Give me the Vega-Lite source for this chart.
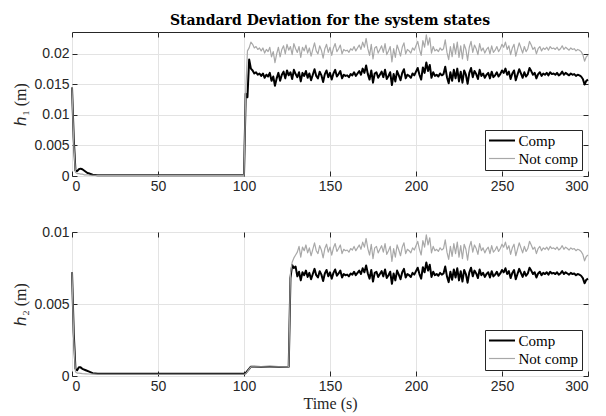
{
"$schema": "https://vega.github.io/schema/vega-lite/v6.json",
"background": "white",
"padding": {"left": 12, "top": 13, "right": 8, "bottom": 2},
"spacing": 30,
"config": {
 "view": {"stroke": "#262626", "strokeWidth": 1},
 "axis": {"labelFont": "Liberation Sans", "labelFontSize": 14, "labelColor": "#262626", "tickColor": "#262626", "tickSize": -5, "domain": false, "gridColor": "#e3e3e3", "gridWidth": 1, "titleFont": "Liberation Serif", "titleFontWeight": "normal", "titleFontSize": 16, "titleColor": "#262626", "labelPadding": 8, "titlePadding": 5},
 "legend": {"orient": "bottom-right", "offset": 6, "symbolType": "M-2,0H2", "symbolSize": 169, "symbolOffset": 6.5, "labelFont": "Liberation Serif", "labelFontSize": 15, "labelColor": "#000000", "fillColor": "white", "strokeColor": "#262626", "padding": 3, "rowPadding": 2, "labelOffset": 9}
},
"datasets": {
"h1": [
{"t":0,"Comp":0.0145,"Not comp":0.0145},
{"t":1,"Comp":0.0062,"Not comp":0.0055},
{"t":2,"Comp":0.0009,"Not comp":0.0006},
{"t":3,"Comp":0.0008,"Not comp":0.0004},
{"t":4,"Comp":0.0011,"Not comp":0.0004},
{"t":5,"Comp":0.0012,"Not comp":0.0003},
{"t":6,"Comp":0.0011,"Not comp":0.0003},
{"t":7,"Comp":0.0009,"Not comp":0.0002},
{"t":8,"Comp":0.0007,"Not comp":0.0002},
{"t":9,"Comp":0.0005,"Not comp":0.0002},
{"t":10,"Comp":0.0004,"Not comp":0.00015},
{"t":12,"Comp":0.0002,"Not comp":0.00012},
{"t":15,"Comp":0.00012,"Not comp":0.0001},
{"t":100,"Comp":0.00012,"Not comp":0.0001},
{"t":101,"Comp":0.0135,"Not comp":0.0137},
{"t":102,"Comp":0.0129,"Not comp":0.0205},
{"t":103,"Comp":0.0191,"Not comp":0.021},
{"t":104,"Comp":0.0176,"Not comp":0.02194},
{"t":105,"Comp":0.0173,"Not comp":0.02158},
{"t":106,"Comp":0.0168,"Not comp":0.02098},
{"t":107,"Comp":0.017,"Not comp":0.02122},
{"t":108,"Comp":0.0166,"Not comp":0.02074},
{"t":109,"Comp":0.0168,"Not comp":0.02098},
{"t":110,"Comp":0.0164,"Not comp":0.0205},
{"t":111,"Comp":0.0168,"Not comp":0.02098},
{"t":112,"Comp":0.0161,"Not comp":0.02014},
{"t":113,"Comp":0.0166,"Not comp":0.02074},
{"t":114,"Comp":0.0163,"Not comp":0.02038},
{"t":115,"Comp":0.0169,"Not comp":0.0211},
{"t":116,"Comp":0.0156,"Not comp":0.01954},
{"t":117,"Comp":0.0163,"Not comp":0.02038},
{"t":118,"Comp":0.0148,"Not comp":0.01858},
{"t":119,"Comp":0.016,"Not comp":0.02002},
{"t":120,"Comp":0.0169,"Not comp":0.0211},
{"t":121,"Comp":0.0156,"Not comp":0.01954},
{"t":122,"Comp":0.0166,"Not comp":0.02074},
{"t":123,"Comp":0.0171,"Not comp":0.02134},
{"t":124,"Comp":0.016,"Not comp":0.02002},
{"t":125,"Comp":0.0173,"Not comp":0.02158},
{"t":126,"Comp":0.0165,"Not comp":0.02062},
{"t":127,"Comp":0.017,"Not comp":0.02122},
{"t":128,"Comp":0.0159,"Not comp":0.0199},
{"t":129,"Comp":0.0174,"Not comp":0.0217},
{"t":130,"Comp":0.0167,"Not comp":0.02086},
{"t":131,"Comp":0.0162,"Not comp":0.02026},
{"t":132,"Comp":0.017,"Not comp":0.02122},
{"t":133,"Comp":0.0155,"Not comp":0.01942},
{"t":134,"Comp":0.0169,"Not comp":0.0211},
{"t":135,"Comp":0.0164,"Not comp":0.0205},
{"t":136,"Comp":0.0172,"Not comp":0.02146},
{"t":137,"Comp":0.0161,"Not comp":0.02014},
{"t":138,"Comp":0.0168,"Not comp":0.02098},
{"t":139,"Comp":0.0157,"Not comp":0.01966},
{"t":140,"Comp":0.0166,"Not comp":0.02074},
{"t":141,"Comp":0.0175,"Not comp":0.02182},
{"t":142,"Comp":0.0164,"Not comp":0.0205},
{"t":143,"Comp":0.016,"Not comp":0.02002},
{"t":144,"Comp":0.0171,"Not comp":0.02134},
{"t":145,"Comp":0.0165,"Not comp":0.02062},
{"t":146,"Comp":0.0154,"Not comp":0.0193},
{"t":147,"Comp":0.0167,"Not comp":0.02086},
{"t":148,"Comp":0.0173,"Not comp":0.02158},
{"t":149,"Comp":0.0162,"Not comp":0.02026},
{"t":150,"Comp":0.0169,"Not comp":0.0211},
{"t":151,"Comp":0.0158,"Not comp":0.01978},
{"t":152,"Comp":0.0168,"Not comp":0.02098},
{"t":153,"Comp":0.0174,"Not comp":0.0217},
{"t":154,"Comp":0.0163,"Not comp":0.02038},
{"t":155,"Comp":0.0167,"Not comp":0.02086},
{"t":156,"Comp":0.0172,"Not comp":0.02146},
{"t":157,"Comp":0.016,"Not comp":0.02002},
{"t":158,"Comp":0.0166,"Not comp":0.02074},
{"t":159,"Comp":0.0164,"Not comp":0.0205},
{"t":160,"Comp":0.0165,"Not comp":0.02062},
{"t":161,"Comp":0.0162,"Not comp":0.02026},
{"t":162,"Comp":0.0167,"Not comp":0.02086},
{"t":163,"Comp":0.0165,"Not comp":0.02062},
{"t":164,"Comp":0.017,"Not comp":0.02122},
{"t":165,"Comp":0.0164,"Not comp":0.0205},
{"t":166,"Comp":0.0168,"Not comp":0.02098},
{"t":167,"Comp":0.0172,"Not comp":0.02146},
{"t":168,"Comp":0.0166,"Not comp":0.02074},
{"t":169,"Comp":0.0176,"Not comp":0.02194},
{"t":170,"Comp":0.0169,"Not comp":0.0211},
{"t":171,"Comp":0.0181,"Not comp":0.02254},
{"t":172,"Comp":0.0167,"Not comp":0.02086},
{"t":173,"Comp":0.0158,"Not comp":0.01978},
{"t":174,"Comp":0.0173,"Not comp":0.02158},
{"t":175,"Comp":0.0153,"Not comp":0.01918},
{"t":176,"Comp":0.0168,"Not comp":0.02098},
{"t":177,"Comp":0.017,"Not comp":0.02122},
{"t":178,"Comp":0.0161,"Not comp":0.02014},
{"t":179,"Comp":0.0166,"Not comp":0.02074},
{"t":180,"Comp":0.0171,"Not comp":0.02134},
{"t":181,"Comp":0.0162,"Not comp":0.02026},
{"t":182,"Comp":0.0174,"Not comp":0.0217},
{"t":183,"Comp":0.0159,"Not comp":0.0199},
{"t":184,"Comp":0.0164,"Not comp":0.0205},
{"t":185,"Comp":0.017,"Not comp":0.02122},
{"t":186,"Comp":0.0149,"Not comp":0.0187},
{"t":187,"Comp":0.0167,"Not comp":0.02086},
{"t":188,"Comp":0.0155,"Not comp":0.01942},
{"t":189,"Comp":0.0172,"Not comp":0.02146},
{"t":190,"Comp":0.0165,"Not comp":0.02062},
{"t":191,"Comp":0.0157,"Not comp":0.01966},
{"t":192,"Comp":0.0169,"Not comp":0.0211},
{"t":193,"Comp":0.0175,"Not comp":0.02182},
{"t":194,"Comp":0.016,"Not comp":0.02002},
{"t":195,"Comp":0.0166,"Not comp":0.02074},
{"t":196,"Comp":0.0164,"Not comp":0.0205},
{"t":197,"Comp":0.0161,"Not comp":0.02014},
{"t":198,"Comp":0.0168,"Not comp":0.02098},
{"t":199,"Comp":0.0165,"Not comp":0.02062},
{"t":200,"Comp":0.0171,"Not comp":0.02134},
{"t":201,"Comp":0.0177,"Not comp":0.02206},
{"t":202,"Comp":0.0166,"Not comp":0.02074},
{"t":203,"Comp":0.0158,"Not comp":0.01978},
{"t":204,"Comp":0.0178,"Not comp":0.02218},
{"t":205,"Comp":0.0169,"Not comp":0.0211},
{"t":206,"Comp":0.0186,"Not comp":0.02314},
{"t":207,"Comp":0.0172,"Not comp":0.02146},
{"t":208,"Comp":0.0182,"Not comp":0.02266},
{"t":209,"Comp":0.0161,"Not comp":0.02014},
{"t":210,"Comp":0.017,"Not comp":0.02122},
{"t":211,"Comp":0.0164,"Not comp":0.0205},
{"t":212,"Comp":0.0166,"Not comp":0.02074},
{"t":213,"Comp":0.0163,"Not comp":0.02038},
{"t":214,"Comp":0.0168,"Not comp":0.02098},
{"t":215,"Comp":0.0165,"Not comp":0.02062},
{"t":216,"Comp":0.0167,"Not comp":0.02086},
{"t":217,"Comp":0.0179,"Not comp":0.0223},
{"t":218,"Comp":0.0162,"Not comp":0.02026},
{"t":219,"Comp":0.0152,"Not comp":0.01906},
{"t":220,"Comp":0.017,"Not comp":0.02122},
{"t":221,"Comp":0.0156,"Not comp":0.01954},
{"t":222,"Comp":0.0174,"Not comp":0.0217},
{"t":223,"Comp":0.016,"Not comp":0.02002},
{"t":224,"Comp":0.0176,"Not comp":0.02194},
{"t":225,"Comp":0.0155,"Not comp":0.01942},
{"t":226,"Comp":0.0171,"Not comp":0.02134},
{"t":227,"Comp":0.0153,"Not comp":0.01918},
{"t":228,"Comp":0.0173,"Not comp":0.02158},
{"t":229,"Comp":0.0166,"Not comp":0.02074},
{"t":230,"Comp":0.0151,"Not comp":0.01894},
{"t":231,"Comp":0.0169,"Not comp":0.0211},
{"t":232,"Comp":0.0177,"Not comp":0.02206},
{"t":233,"Comp":0.0162,"Not comp":0.02026},
{"t":234,"Comp":0.0172,"Not comp":0.02146},
{"t":235,"Comp":0.0167,"Not comp":0.02086},
{"t":236,"Comp":0.0159,"Not comp":0.0199},
{"t":237,"Comp":0.0174,"Not comp":0.0217},
{"t":238,"Comp":0.0164,"Not comp":0.0205},
{"t":239,"Comp":0.0168,"Not comp":0.02098},
{"t":240,"Comp":0.0161,"Not comp":0.02014},
{"t":241,"Comp":0.0166,"Not comp":0.02074},
{"t":242,"Comp":0.0169,"Not comp":0.0211},
{"t":243,"Comp":0.016,"Not comp":0.02002},
{"t":244,"Comp":0.0171,"Not comp":0.02134},
{"t":245,"Comp":0.0162,"Not comp":0.02026},
{"t":246,"Comp":0.0165,"Not comp":0.02062},
{"t":247,"Comp":0.017,"Not comp":0.02122},
{"t":248,"Comp":0.0163,"Not comp":0.02038},
{"t":249,"Comp":0.0167,"Not comp":0.02086},
{"t":250,"Comp":0.0173,"Not comp":0.02158},
{"t":251,"Comp":0.0169,"Not comp":0.0211},
{"t":252,"Comp":0.0176,"Not comp":0.02194},
{"t":253,"Comp":0.0166,"Not comp":0.02074},
{"t":254,"Comp":0.0171,"Not comp":0.02134},
{"t":255,"Comp":0.0159,"Not comp":0.0199},
{"t":256,"Comp":0.0168,"Not comp":0.02098},
{"t":257,"Comp":0.0173,"Not comp":0.02158},
{"t":258,"Comp":0.0157,"Not comp":0.01966},
{"t":259,"Comp":0.0166,"Not comp":0.02074},
{"t":260,"Comp":0.0175,"Not comp":0.02182},
{"t":261,"Comp":0.0168,"Not comp":0.02098},
{"t":262,"Comp":0.0161,"Not comp":0.02014},
{"t":263,"Comp":0.017,"Not comp":0.02122},
{"t":264,"Comp":0.0163,"Not comp":0.02038},
{"t":265,"Comp":0.0167,"Not comp":0.02086},
{"t":266,"Comp":0.0177,"Not comp":0.02206},
{"t":267,"Comp":0.0172,"Not comp":0.02146},
{"t":268,"Comp":0.0166,"Not comp":0.02074},
{"t":269,"Comp":0.0169,"Not comp":0.0211},
{"t":270,"Comp":0.016,"Not comp":0.02002},
{"t":271,"Comp":0.0167,"Not comp":0.02086},
{"t":272,"Comp":0.017,"Not comp":0.02122},
{"t":273,"Comp":0.0164,"Not comp":0.0205},
{"t":274,"Comp":0.0168,"Not comp":0.02098},
{"t":275,"Comp":0.0166,"Not comp":0.02074},
{"t":276,"Comp":0.0169,"Not comp":0.0211},
{"t":277,"Comp":0.0165,"Not comp":0.02062},
{"t":278,"Comp":0.017,"Not comp":0.02122},
{"t":279,"Comp":0.0167,"Not comp":0.02086},
{"t":280,"Comp":0.0168,"Not comp":0.02098},
{"t":281,"Comp":0.0166,"Not comp":0.02074},
{"t":282,"Comp":0.0169,"Not comp":0.0211},
{"t":283,"Comp":0.0165,"Not comp":0.02062},
{"t":284,"Comp":0.0167,"Not comp":0.02086},
{"t":285,"Comp":0.0171,"Not comp":0.02134},
{"t":286,"Comp":0.0166,"Not comp":0.02074},
{"t":287,"Comp":0.0169,"Not comp":0.0211},
{"t":288,"Comp":0.0167,"Not comp":0.02086},
{"t":289,"Comp":0.0165,"Not comp":0.02062},
{"t":290,"Comp":0.0168,"Not comp":0.02098},
{"t":291,"Comp":0.0166,"Not comp":0.02074},
{"t":292,"Comp":0.0167,"Not comp":0.02086},
{"t":293,"Comp":0.0164,"Not comp":0.0205},
{"t":294,"Comp":0.0166,"Not comp":0.02074},
{"t":295,"Comp":0.0165,"Not comp":0.02062},
{"t":296,"Comp":0.0163,"Not comp":0.02038},
{"t":297,"Comp":0.0159,"Not comp":0.0199},
{"t":298,"Comp":0.015,"Not comp":0.01882},
{"t":299,"Comp":0.0156,"Not comp":0.01954},
{"t":300,"Comp":0.0158,"Not comp":0.01978}
],
"h2": [
{"t":0,"Comp":0.0072,"Not comp":0.0072},
{"t":1,"Comp":0.003,"Not comp":0.0026},
{"t":2,"Comp":0.0005,"Not comp":0.0003},
{"t":3,"Comp":0.0004,"Not comp":0.0002},
{"t":4,"Comp":0.0006,"Not comp":0.0002},
{"t":5,"Comp":0.0006,"Not comp":0.00018},
{"t":6,"Comp":0.0005,"Not comp":0.00016},
{"t":8,"Comp":0.0004,"Not comp":0.00015},
{"t":10,"Comp":0.0003,"Not comp":0.00014},
{"t":12,"Comp":0.0002,"Not comp":0.00013},
{"t":15,"Comp":0.00015,"Not comp":0.00012},
{"t":100,"Comp":0.00015,"Not comp":0.00012},
{"t":101,"Comp":0.0002,"Not comp":0.00015},
{"t":102,"Comp":0.00035,"Not comp":0.0003},
{"t":103,"Comp":0.0005,"Not comp":0.00048},
{"t":104,"Comp":0.00065,"Not comp":0.00063},
{"t":110,"Comp":0.00063,"Not comp":0.00064},
{"t":115,"Comp":0.00065,"Not comp":0.00062},
{"t":120,"Comp":0.00062,"Not comp":0.00063},
{"t":126,"Comp":0.00065,"Not comp":0.00064},
{"t":127,"Comp":0.0068,"Not comp":0.0071},
{"t":128,"Comp":0.0077,"Not comp":0.0079},
{"t":129,"Comp":0.0075,"Not comp":0.0082},
{"t":130,"Comp":0.0076,"Not comp":0.0084},
{"t":131,"Comp":0.00692,"Not comp":0.0086},
{"t":132,"Comp":0.00724,"Not comp":0.009},
{"t":133,"Comp":0.00664,"Not comp":0.00825},
{"t":134,"Comp":0.0072,"Not comp":0.00895},
{"t":135,"Comp":0.007,"Not comp":0.0087},
{"t":136,"Comp":0.00732,"Not comp":0.0091},
{"t":137,"Comp":0.00688,"Not comp":0.00855},
{"t":138,"Comp":0.00716,"Not comp":0.0089},
{"t":139,"Comp":0.00672,"Not comp":0.00835},
{"t":140,"Comp":0.00708,"Not comp":0.0088},
{"t":141,"Comp":0.00744,"Not comp":0.00925},
{"t":142,"Comp":0.007,"Not comp":0.0087},
{"t":143,"Comp":0.00684,"Not comp":0.0085},
{"t":144,"Comp":0.00728,"Not comp":0.00905},
{"t":145,"Comp":0.00704,"Not comp":0.00875},
{"t":146,"Comp":0.0066,"Not comp":0.0082},
{"t":147,"Comp":0.00712,"Not comp":0.00885},
{"t":148,"Comp":0.00736,"Not comp":0.00915},
{"t":149,"Comp":0.00692,"Not comp":0.0086},
{"t":150,"Comp":0.0072,"Not comp":0.00895},
{"t":151,"Comp":0.00676,"Not comp":0.0084},
{"t":152,"Comp":0.00716,"Not comp":0.0089},
{"t":153,"Comp":0.0074,"Not comp":0.0092},
{"t":154,"Comp":0.00696,"Not comp":0.00865},
{"t":155,"Comp":0.00712,"Not comp":0.00885},
{"t":156,"Comp":0.00732,"Not comp":0.0091},
{"t":157,"Comp":0.00684,"Not comp":0.0085},
{"t":158,"Comp":0.00708,"Not comp":0.0088},
{"t":159,"Comp":0.007,"Not comp":0.0087},
{"t":160,"Comp":0.00704,"Not comp":0.00875},
{"t":161,"Comp":0.00692,"Not comp":0.0086},
{"t":162,"Comp":0.00712,"Not comp":0.00885},
{"t":163,"Comp":0.00704,"Not comp":0.00875},
{"t":164,"Comp":0.00724,"Not comp":0.009},
{"t":165,"Comp":0.007,"Not comp":0.0087},
{"t":166,"Comp":0.00716,"Not comp":0.0089},
{"t":167,"Comp":0.00732,"Not comp":0.0091},
{"t":168,"Comp":0.00708,"Not comp":0.0088},
{"t":169,"Comp":0.00748,"Not comp":0.0093},
{"t":170,"Comp":0.0072,"Not comp":0.00895},
{"t":171,"Comp":0.00768,"Not comp":0.00955},
{"t":172,"Comp":0.00712,"Not comp":0.00885},
{"t":173,"Comp":0.00676,"Not comp":0.0084},
{"t":174,"Comp":0.00736,"Not comp":0.00915},
{"t":175,"Comp":0.00656,"Not comp":0.00815},
{"t":176,"Comp":0.00716,"Not comp":0.0089},
{"t":177,"Comp":0.00724,"Not comp":0.009},
{"t":178,"Comp":0.00688,"Not comp":0.00855},
{"t":179,"Comp":0.00708,"Not comp":0.0088},
{"t":180,"Comp":0.00728,"Not comp":0.00905},
{"t":181,"Comp":0.00692,"Not comp":0.0086},
{"t":182,"Comp":0.0074,"Not comp":0.0092},
{"t":183,"Comp":0.0068,"Not comp":0.00845},
{"t":184,"Comp":0.007,"Not comp":0.0087},
{"t":185,"Comp":0.00724,"Not comp":0.009},
{"t":186,"Comp":0.0064,"Not comp":0.00795},
{"t":187,"Comp":0.00712,"Not comp":0.00885},
{"t":188,"Comp":0.00664,"Not comp":0.00825},
{"t":189,"Comp":0.00732,"Not comp":0.0091},
{"t":190,"Comp":0.00704,"Not comp":0.00875},
{"t":191,"Comp":0.00672,"Not comp":0.00835},
{"t":192,"Comp":0.0072,"Not comp":0.00895},
{"t":193,"Comp":0.00744,"Not comp":0.00925},
{"t":194,"Comp":0.00684,"Not comp":0.0085},
{"t":195,"Comp":0.00708,"Not comp":0.0088},
{"t":196,"Comp":0.007,"Not comp":0.0087},
{"t":197,"Comp":0.00688,"Not comp":0.00855},
{"t":198,"Comp":0.00716,"Not comp":0.0089},
{"t":199,"Comp":0.00704,"Not comp":0.00875},
{"t":200,"Comp":0.00728,"Not comp":0.00905},
{"t":201,"Comp":0.00752,"Not comp":0.00935},
{"t":202,"Comp":0.00708,"Not comp":0.0088},
{"t":203,"Comp":0.00676,"Not comp":0.0084},
{"t":204,"Comp":0.00756,"Not comp":0.0094},
{"t":205,"Comp":0.0072,"Not comp":0.00895},
{"t":206,"Comp":0.00788,"Not comp":0.0098},
{"t":207,"Comp":0.00732,"Not comp":0.0091},
{"t":208,"Comp":0.00772,"Not comp":0.0096},
{"t":209,"Comp":0.00688,"Not comp":0.00855},
{"t":210,"Comp":0.00724,"Not comp":0.009},
{"t":211,"Comp":0.007,"Not comp":0.0087},
{"t":212,"Comp":0.00708,"Not comp":0.0088},
{"t":213,"Comp":0.00696,"Not comp":0.00865},
{"t":214,"Comp":0.00716,"Not comp":0.0089},
{"t":215,"Comp":0.00704,"Not comp":0.00875},
{"t":216,"Comp":0.00712,"Not comp":0.00885},
{"t":217,"Comp":0.0076,"Not comp":0.00945},
{"t":218,"Comp":0.00692,"Not comp":0.0086},
{"t":219,"Comp":0.00652,"Not comp":0.0081},
{"t":220,"Comp":0.00724,"Not comp":0.009},
{"t":221,"Comp":0.00668,"Not comp":0.0083},
{"t":222,"Comp":0.0074,"Not comp":0.0092},
{"t":223,"Comp":0.00684,"Not comp":0.0085},
{"t":224,"Comp":0.00748,"Not comp":0.0093},
{"t":225,"Comp":0.00664,"Not comp":0.00825},
{"t":226,"Comp":0.00728,"Not comp":0.00905},
{"t":227,"Comp":0.00656,"Not comp":0.00815},
{"t":228,"Comp":0.00736,"Not comp":0.00915},
{"t":229,"Comp":0.00708,"Not comp":0.0088},
{"t":230,"Comp":0.00648,"Not comp":0.00805},
{"t":231,"Comp":0.0072,"Not comp":0.00895},
{"t":232,"Comp":0.00752,"Not comp":0.00935},
{"t":233,"Comp":0.00692,"Not comp":0.0086},
{"t":234,"Comp":0.00732,"Not comp":0.0091},
{"t":235,"Comp":0.00712,"Not comp":0.00885},
{"t":236,"Comp":0.0068,"Not comp":0.00845},
{"t":237,"Comp":0.0074,"Not comp":0.0092},
{"t":238,"Comp":0.007,"Not comp":0.0087},
{"t":239,"Comp":0.00716,"Not comp":0.0089},
{"t":240,"Comp":0.00688,"Not comp":0.00855},
{"t":241,"Comp":0.00708,"Not comp":0.0088},
{"t":242,"Comp":0.0072,"Not comp":0.00895},
{"t":243,"Comp":0.00684,"Not comp":0.0085},
{"t":244,"Comp":0.00728,"Not comp":0.00905},
{"t":245,"Comp":0.00692,"Not comp":0.0086},
{"t":246,"Comp":0.00704,"Not comp":0.00875},
{"t":247,"Comp":0.00724,"Not comp":0.009},
{"t":248,"Comp":0.00696,"Not comp":0.00865},
{"t":249,"Comp":0.00712,"Not comp":0.00885},
{"t":250,"Comp":0.00736,"Not comp":0.00915},
{"t":251,"Comp":0.0072,"Not comp":0.00895},
{"t":252,"Comp":0.00748,"Not comp":0.0093},
{"t":253,"Comp":0.00708,"Not comp":0.0088},
{"t":254,"Comp":0.00728,"Not comp":0.00905},
{"t":255,"Comp":0.0068,"Not comp":0.00845},
{"t":256,"Comp":0.00716,"Not comp":0.0089},
{"t":257,"Comp":0.00736,"Not comp":0.00915},
{"t":258,"Comp":0.00672,"Not comp":0.00835},
{"t":259,"Comp":0.00708,"Not comp":0.0088},
{"t":260,"Comp":0.00744,"Not comp":0.00925},
{"t":261,"Comp":0.00716,"Not comp":0.0089},
{"t":262,"Comp":0.00688,"Not comp":0.00855},
{"t":263,"Comp":0.00724,"Not comp":0.009},
{"t":264,"Comp":0.00696,"Not comp":0.00865},
{"t":265,"Comp":0.00712,"Not comp":0.00885},
{"t":266,"Comp":0.00752,"Not comp":0.00935},
{"t":267,"Comp":0.00732,"Not comp":0.0091},
{"t":268,"Comp":0.00708,"Not comp":0.0088},
{"t":269,"Comp":0.0072,"Not comp":0.00895},
{"t":270,"Comp":0.00684,"Not comp":0.0085},
{"t":271,"Comp":0.00712,"Not comp":0.00885},
{"t":272,"Comp":0.00724,"Not comp":0.009},
{"t":273,"Comp":0.007,"Not comp":0.0087},
{"t":274,"Comp":0.00716,"Not comp":0.0089},
{"t":275,"Comp":0.00708,"Not comp":0.0088},
{"t":276,"Comp":0.0072,"Not comp":0.00895},
{"t":277,"Comp":0.00704,"Not comp":0.00875},
{"t":278,"Comp":0.00724,"Not comp":0.009},
{"t":279,"Comp":0.00712,"Not comp":0.00885},
{"t":280,"Comp":0.00716,"Not comp":0.0089},
{"t":281,"Comp":0.00708,"Not comp":0.0088},
{"t":282,"Comp":0.0072,"Not comp":0.00895},
{"t":283,"Comp":0.00704,"Not comp":0.00875},
{"t":284,"Comp":0.00712,"Not comp":0.00885},
{"t":285,"Comp":0.00728,"Not comp":0.00905},
{"t":286,"Comp":0.00708,"Not comp":0.0088},
{"t":287,"Comp":0.0072,"Not comp":0.00895},
{"t":288,"Comp":0.00712,"Not comp":0.00885},
{"t":289,"Comp":0.00704,"Not comp":0.00875},
{"t":290,"Comp":0.00716,"Not comp":0.0089},
{"t":291,"Comp":0.00708,"Not comp":0.0088},
{"t":292,"Comp":0.00712,"Not comp":0.00885},
{"t":293,"Comp":0.007,"Not comp":0.0087},
{"t":294,"Comp":0.00708,"Not comp":0.0088},
{"t":295,"Comp":0.00704,"Not comp":0.00875},
{"t":296,"Comp":0.00696,"Not comp":0.00865},
{"t":297,"Comp":0.0068,"Not comp":0.00845},
{"t":298,"Comp":0.00644,"Not comp":0.008},
{"t":299,"Comp":0.00668,"Not comp":0.0083},
{"t":300,"Comp":0.00676,"Not comp":0.0084}
]
},
"vconcat": [
{
 "width": 516, "height": 144,
 "title": {"text": "Standard Deviation for the system states", "font": "DejaVu Serif", "fontSize": 14, "fontWeight": "bold", "color": "#000000", "anchor": "middle", "frame": "group", "offset": 4},
 "data": {"name": "h1"},
 "transform": [{"fold": ["Comp", "Not comp"], "as": ["s", "v"]}],
 "layer": [
  {"mark": {"type": "line", "strokeJoin": "round"},
   "encoding": {
    "x": {"field": "t", "type": "quantitative", "scale": {"domain": [0, 300], "nice": false}, "axis": {"orient": "bottom", "title": null, "values": [0, 50, 100, 150, 200, 250, 300], "grid": true}},
    "y": {"field": "v", "type": "quantitative", "scale": {"domain": [0, 0.0236], "nice": false, "zero": false}, "axis": {"orient": "left", "title": "ℎ₁ (m)", "values": [0, 0.005, 0.01, 0.015, 0.02], "format": ".3~f", "grid": true}},
    "color": {"field": "s", "type": "nominal", "scale": {"domain": ["Comp", "Not comp"], "range": ["#000000", "#a8a8a8"]}, "legend": {"title": null}},
    "strokeWidth": {"field": "s", "type": "nominal", "scale": {"domain": ["Comp", "Not comp"], "range": [2, 1.2]}, "legend": {"title": null}}
   }},
  {"mark": {"type": "point", "opacity": 0},
   "encoding": {
    "x": {"field": "t", "type": "quantitative", "axis": {"orient": "top", "title": null, "labels": false, "grid": false, "values": [0, 50, 100, 150, 200, 250, 300]}},
    "y": {"field": "v", "type": "quantitative", "axis": {"orient": "right", "title": null, "labels": false, "grid": false, "values": [0, 0.005, 0.01, 0.015, 0.02]}}
   }}
 ],
 "resolve": {"axis": {"x": "independent", "y": "independent"}}
},
{
 "width": 516, "height": 144,
 "data": {"name": "h2"},
 "transform": [{"fold": ["Comp", "Not comp"], "as": ["s", "v"]}],
 "layer": [
  {"mark": {"type": "line", "strokeJoin": "round"},
   "encoding": {
    "x": {"field": "t", "type": "quantitative", "scale": {"domain": [0, 300], "nice": false}, "axis": {"orient": "bottom", "title": "Time (s)", "titlePadding": 2, "values": [0, 50, 100, 150, 200, 250, 300], "grid": true}},
    "y": {"field": "v", "type": "quantitative", "scale": {"domain": [0, 0.01], "nice": false, "zero": false}, "axis": {"orient": "left", "title": "ℎ₂ (m)", "values": [0, 0.005, 0.01], "format": ".3~f", "grid": true}},
    "color": {"field": "s", "type": "nominal", "scale": {"domain": ["Comp", "Not comp"], "range": ["#000000", "#a8a8a8"]}, "legend": {"title": null}},
    "strokeWidth": {"field": "s", "type": "nominal", "scale": {"domain": ["Comp", "Not comp"], "range": [2, 1.2]}, "legend": {"title": null}}
   }},
  {"mark": {"type": "point", "opacity": 0},
   "encoding": {
    "x": {"field": "t", "type": "quantitative", "axis": {"orient": "top", "title": null, "labels": false, "grid": false, "values": [0, 50, 100, 150, 200, 250, 300]}},
    "y": {"field": "v", "type": "quantitative", "axis": {"orient": "right", "title": null, "labels": false, "grid": false, "values": [0, 0.005, 0.01]}}
   }}
 ],
 "resolve": {"axis": {"x": "independent", "y": "independent"}}
}
],
"resolve": {"scale": {"color": "independent", "strokeWidth": "independent"}, "legend": {"color": "independent", "strokeWidth": "independent"}}
}
